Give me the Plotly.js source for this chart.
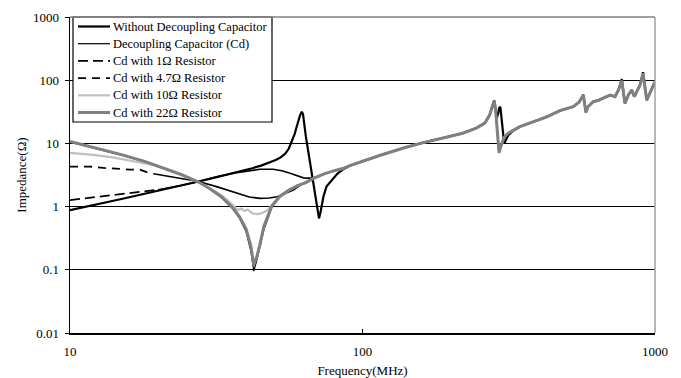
<!DOCTYPE html>
<html>
<head>
<meta charset="utf-8">
<script src="https://cdn.plot.ly/plotly-3.0.1.min.js"></script>
<style>html,body{margin:0;padding:0;background:#fff;}#chart{width:681px;height:378px;}</style>
</head>
<body>
<div id="chart"></div>
<script>
// Series names (legend)
var seriesNames = [
  "Without Decoupling Capacitor",
  "Decoupling Capacitor (Cd)",
  "Cd with 1\u03A9 Resistor",
  "Cd with 4.7\u03A9 Resistor",
  "Cd with 10\u03A9 Resistor",
  "Cd with 22\u03A9 Resistor"
];

// Low-frequency parts (MHz, Ohm)
var noCapFreq = [10, 12, 15, 18, 21, 24, 27.5, 31, 35, 39, 42, 45, 48, 50.5, 52.5, 54.5, 56, 57.3, 58.6, 59.6, 60.4, 61.2, 62, 62.6, 64, 66, 68, 70, 71, 72, 73.5, 75.3, 78.5, 82, 86];
var noCapLow  = [0.88, 1.05, 1.32, 1.6, 1.9, 2.2, 2.5, 2.85, 3.25, 3.65, 4.05, 4.45, 4.95, 5.45, 6.0, 6.9, 8.3, 10.5, 14, 18.5, 23, 28, 31.8, 29, 13, 5.2, 2.2, 0.95, 0.65, 0.85, 1.43, 2.07, 2.64, 3.3, 3.9];

var cdFreq = [10, 12, 15, 18, 21, 24, 27.5, 30, 33, 36, 38, 40, 41.5, 42.5, 43.5, 44.6, 46, 49, 52, 56, 60, 64, 68, 74, 80, 86];
var cdLow  = [10.5, 8.5, 6.5, 5.1, 4.0, 3.2, 2.45, 1.9, 1.38, 0.92, 0.65, 0.4, 0.2, 0.095, 0.14, 0.22, 0.43, 0.97, 1.38, 1.78, 2.15, 2.4, 2.8, 3.3, 3.7, 4.0];

var r1Freq = [10, 13, 16.9, 20, 24, 27.5, 31.7, 37.1, 41, 44.6, 49.5, 53, 56.6, 60, 62.8, 68, 74, 80, 86];
var r1Low  = [1.27, 1.45, 1.66, 1.85, 2.15, 2.5, 2.97, 3.43, 3.7, 3.9, 3.9, 3.7, 3.37, 3.05, 2.85, 2.8, 3.3, 3.7, 4.0];

var r47Freq = [10, 11.7, 13, 14.8, 16, 17.3, 18.3, 19.3, 21, 24, 27.5, 31.7, 37.1, 41, 44.6, 48, 51.1, 54.5, 58, 61, 64.4, 68, 74, 80, 86];
var r47Low  = [4.3, 4.3, 4.1, 3.9, 3.85, 3.85, 3.5, 3.3, 3.1, 2.8, 2.5, 2.07, 1.62, 1.42, 1.35, 1.37, 1.43, 1.6, 1.83, 2.15, 2.5, 2.8, 3.3, 3.7, 4.0];

var r10Freq = [10, 12, 14, 16, 19, 21, 24, 27.5, 30, 33, 35, 36.5, 37.5, 38.5, 39.5, 40.5, 42, 43.5, 45, 47, 49, 51, 53.5, 56, 60, 64, 68, 74, 80, 86];
var r10Low  = [7.1, 6.6, 6.0, 5.4, 4.6, 4.0, 3.2, 2.45, 1.95, 1.5, 1.2, 1.0, 0.88, 0.93, 0.85, 0.9, 0.78, 0.76, 0.78, 0.86, 1.05, 1.27, 1.55, 1.8, 2.15, 2.4, 2.8, 3.3, 3.7, 4.0];

var r22Freq = [10, 12, 15, 18, 21, 24, 27.5, 30, 33, 36, 38, 40, 41.5, 42.5, 43.5, 44.6, 46, 49, 52, 56, 60, 64, 68, 74, 80, 86];
var r22Low  = [10.7, 8.7, 6.65, 5.2, 4.08, 3.22, 2.45, 1.93, 1.42, 0.96, 0.69, 0.44, 0.24, 0.12, 0.16, 0.25, 0.49, 1.03, 1.44, 1.82, 2.15, 2.4, 2.8, 3.3, 3.7, 4.0];

// High-frequency part shared by the curves (MHz, Ohm)
var tailFreq   = [90, 100, 115, 140, 160, 190, 220, 245, 262, 272, 278, 282, 285, 288, 291, 293, 296, 300, 305, 315, 330, 345, 400, 427, 473, 525, 550, 569, 575, 580, 590, 615, 640, 670, 702, 730, 750, 770, 780, 789, 810, 832, 850, 870, 889, 910, 922, 937, 960, 1000];
var tailCommon = [4.4, 5.2, 6.5, 8.6, 10.2, 12.3, 14.5, 17.5, 21, 28, 38, 47, 35, 18, 9.5, 7.1, 8.5, 10.5, 12.5, 14.5, 16.5, 18.4, 23.5, 26.4, 33, 38, 45, 58, 42, 31, 38, 45.7, 48, 53, 58, 55, 70, 98, 65, 43, 58, 70, 55, 68, 84, 128, 80, 48.6, 62, 95];
var tailNoCap  = [4.4, 5.2, 6.5, 8.6, 10.2, 12.3, 14.5, 17.5, 21, 28, 38, 48, 35, 25, 30, 36, 38, 20, 10, 13.5, 16.3, 18.3, 23.5, 26.4, 33, 38, 45, 59, 42, 31, 38, 45.7, 48, 53, 58, 55, 70, 104, 65, 43, 58, 70, 55, 68, 84, 134, 80, 48.6, 62, 95];

// Axis ticks
var xTicks = [10, 100, 1000];
var xTickText = ["10", "100", "1000"];
var yTicks = [0.01, 0.1, 1, 10, 100, 1000];
var yTickText = ["0.01", "0.1", "1", "10", "100", "1000"];

var FONT = "Liberation Serif, Times New Roman, serif";

// Styles for each series (legend order)
var styles = [
  {color: "#000000", width: 2.2, dash: "solid"},
  {color: "#000000", width: 1.2, dash: "solid"},
  {color: "#000000", width: 1.8, dash: "10px,5px"},
  {color: "#000000", width: 1.8, dash: "8px,6px"},
  {color: "#c0c0c0", width: 2.2, dash: "solid"},
  {color: "#808080", width: 3, dash: "solid"}
];

function full(f, v, tf, tv) { return {x: f.concat(tf), y: v.concat(tv)}; }

var A = full(noCapFreq, noCapLow, tailFreq, tailNoCap);
var B = full(cdFreq, cdLow, tailFreq, tailCommon);
var C = full(r1Freq, r1Low, tailFreq, tailCommon);
var D = full(r47Freq, r47Low, tailFreq, tailCommon);
var E = full(r10Freq, r10Low, tailFreq, tailCommon);
var F = full(r22Freq, r22Low, tailFreq, tailCommon);

var r1Split = 4, r47Split = 8;

function ln(s, solid) { return {color: s.color, width: solid ? Math.min(s.width, 1.6) : s.width, dash: solid ? "solid" : s.dash}; }

var traces = [
  {x: A.x, y: A.y, name: seriesNames[0], mode: "lines", line: ln(styles[0])},
  {x: B.x, y: B.y, name: seriesNames[1], mode: "lines", line: ln(styles[1])},
  {x: C.x.slice(0, r1Split), y: C.y.slice(0, r1Split), name: seriesNames[2], mode: "lines", line: ln(styles[2])},
  {x: C.x.slice(r1Split - 1), y: C.y.slice(r1Split - 1), name: seriesNames[2], mode: "lines", line: ln(styles[2], true)},
  {x: D.x.slice(0, r47Split), y: D.y.slice(0, r47Split), name: seriesNames[3], mode: "lines", line: ln(styles[3])},
  {x: D.x.slice(r47Split - 1), y: D.y.slice(r47Split - 1), name: seriesNames[3], mode: "lines", line: ln(styles[3], true)},
  {x: E.x, y: E.y, name: seriesNames[4], mode: "lines", line: ln(styles[4])},
  {x: F.x, y: F.y, name: seriesNames[5], mode: "lines", line: ln(styles[5])}
];

// Hand-built legend box (pixel layout converted to paper units)
var PL = 70, PR = 655, PT = 17, PB = 333;
function px(x) { return (x - PL) / (PR - PL); }
function py(y) { return 1 - (y - PT) / (PB - PT); }

var shapes = [
  {type: "rect", xref: "paper", yref: "paper", x0: px(73), x1: px(272), y0: py(122), y1: py(17),
   fillcolor: "#ffffff", line: {color: "#000000", width: 1.2}, layer: "above"}
];
var annotations = [];
for (var i = 0; i < seriesNames.length; i++) {
  var yc = 26.5 + i * 17.2;
  shapes.push({type: "line", xref: "paper", yref: "paper", x0: px(78), x1: px(110), y0: py(yc), y1: py(yc),
    line: {color: styles[i].color, width: styles[i].width, dash: styles[i].dash}, layer: "above"});
  annotations.push({xref: "paper", yref: "paper", x: px(111), y: py(yc), xanchor: "left", yanchor: "middle",
    text: seriesNames[i], showarrow: false, font: {family: FONT, size: 12.5, color: "#000000"}});
}
shapes.push({type: "line", xref: "paper", yref: "paper", x0: 0, x1: 1, y0: 1, y1: 1, line: {color: "#808080", width: 1.5}, layer: "above"});
shapes.push({type: "line", xref: "paper", yref: "paper", x0: 1, x1: 1, y0: 0, y1: 1, line: {color: "#a0a0a0", width: 1.5}, layer: "above"});

var layout = {
  width: 681, height: 378,
  margin: {l: 70, r: 26, t: 17, b: 45, pad: 0},
  paper_bgcolor: "#ffffff", plot_bgcolor: "#ffffff",
  font: {family: FONT, size: 13, color: "#000000"},
  showlegend: false,
  xaxis: {
    type: "log", range: [1, 3],
    tickvals: xTicks, ticktext: xTickText,
    ticks: "inside", ticklen: 4, tickcolor: "#000000", tickwidth: 1,
    showline: true, linecolor: "#000000", linewidth: 1.5,
    showgrid: false, zeroline: false,
    ticklabelstandoff: 6,
    tickfont: {family: FONT, size: 13, color: "#000000"},
    title: {text: "Frequency(MHz)", font: {family: FONT, size: 13, color: "#000000"}, standoff: 11}
  },
  yaxis: {
    type: "log", range: [-2, 3],
    tickvals: yTicks, ticktext: yTickText,
    ticks: "outside", ticklen: 4, tickcolor: "#000000", tickwidth: 1,
    showline: true, linecolor: "#000000", linewidth: 1.5,
    showgrid: true, gridcolor: "#000000", gridwidth: 1, zeroline: false,
    ticklabelstandoff: 3,
    tickfont: {family: FONT, size: 13, color: "#000000"},
    title: {text: "Impedance(\u03A9)", font: {family: FONT, size: 13, color: "#000000"}, standoff: 3}
  },
  shapes: shapes,
  annotations: annotations
};

Plotly.newPlot("chart", traces, layout, {displayModeBar: false, staticPlot: true});
</script>
</body>
</html>
